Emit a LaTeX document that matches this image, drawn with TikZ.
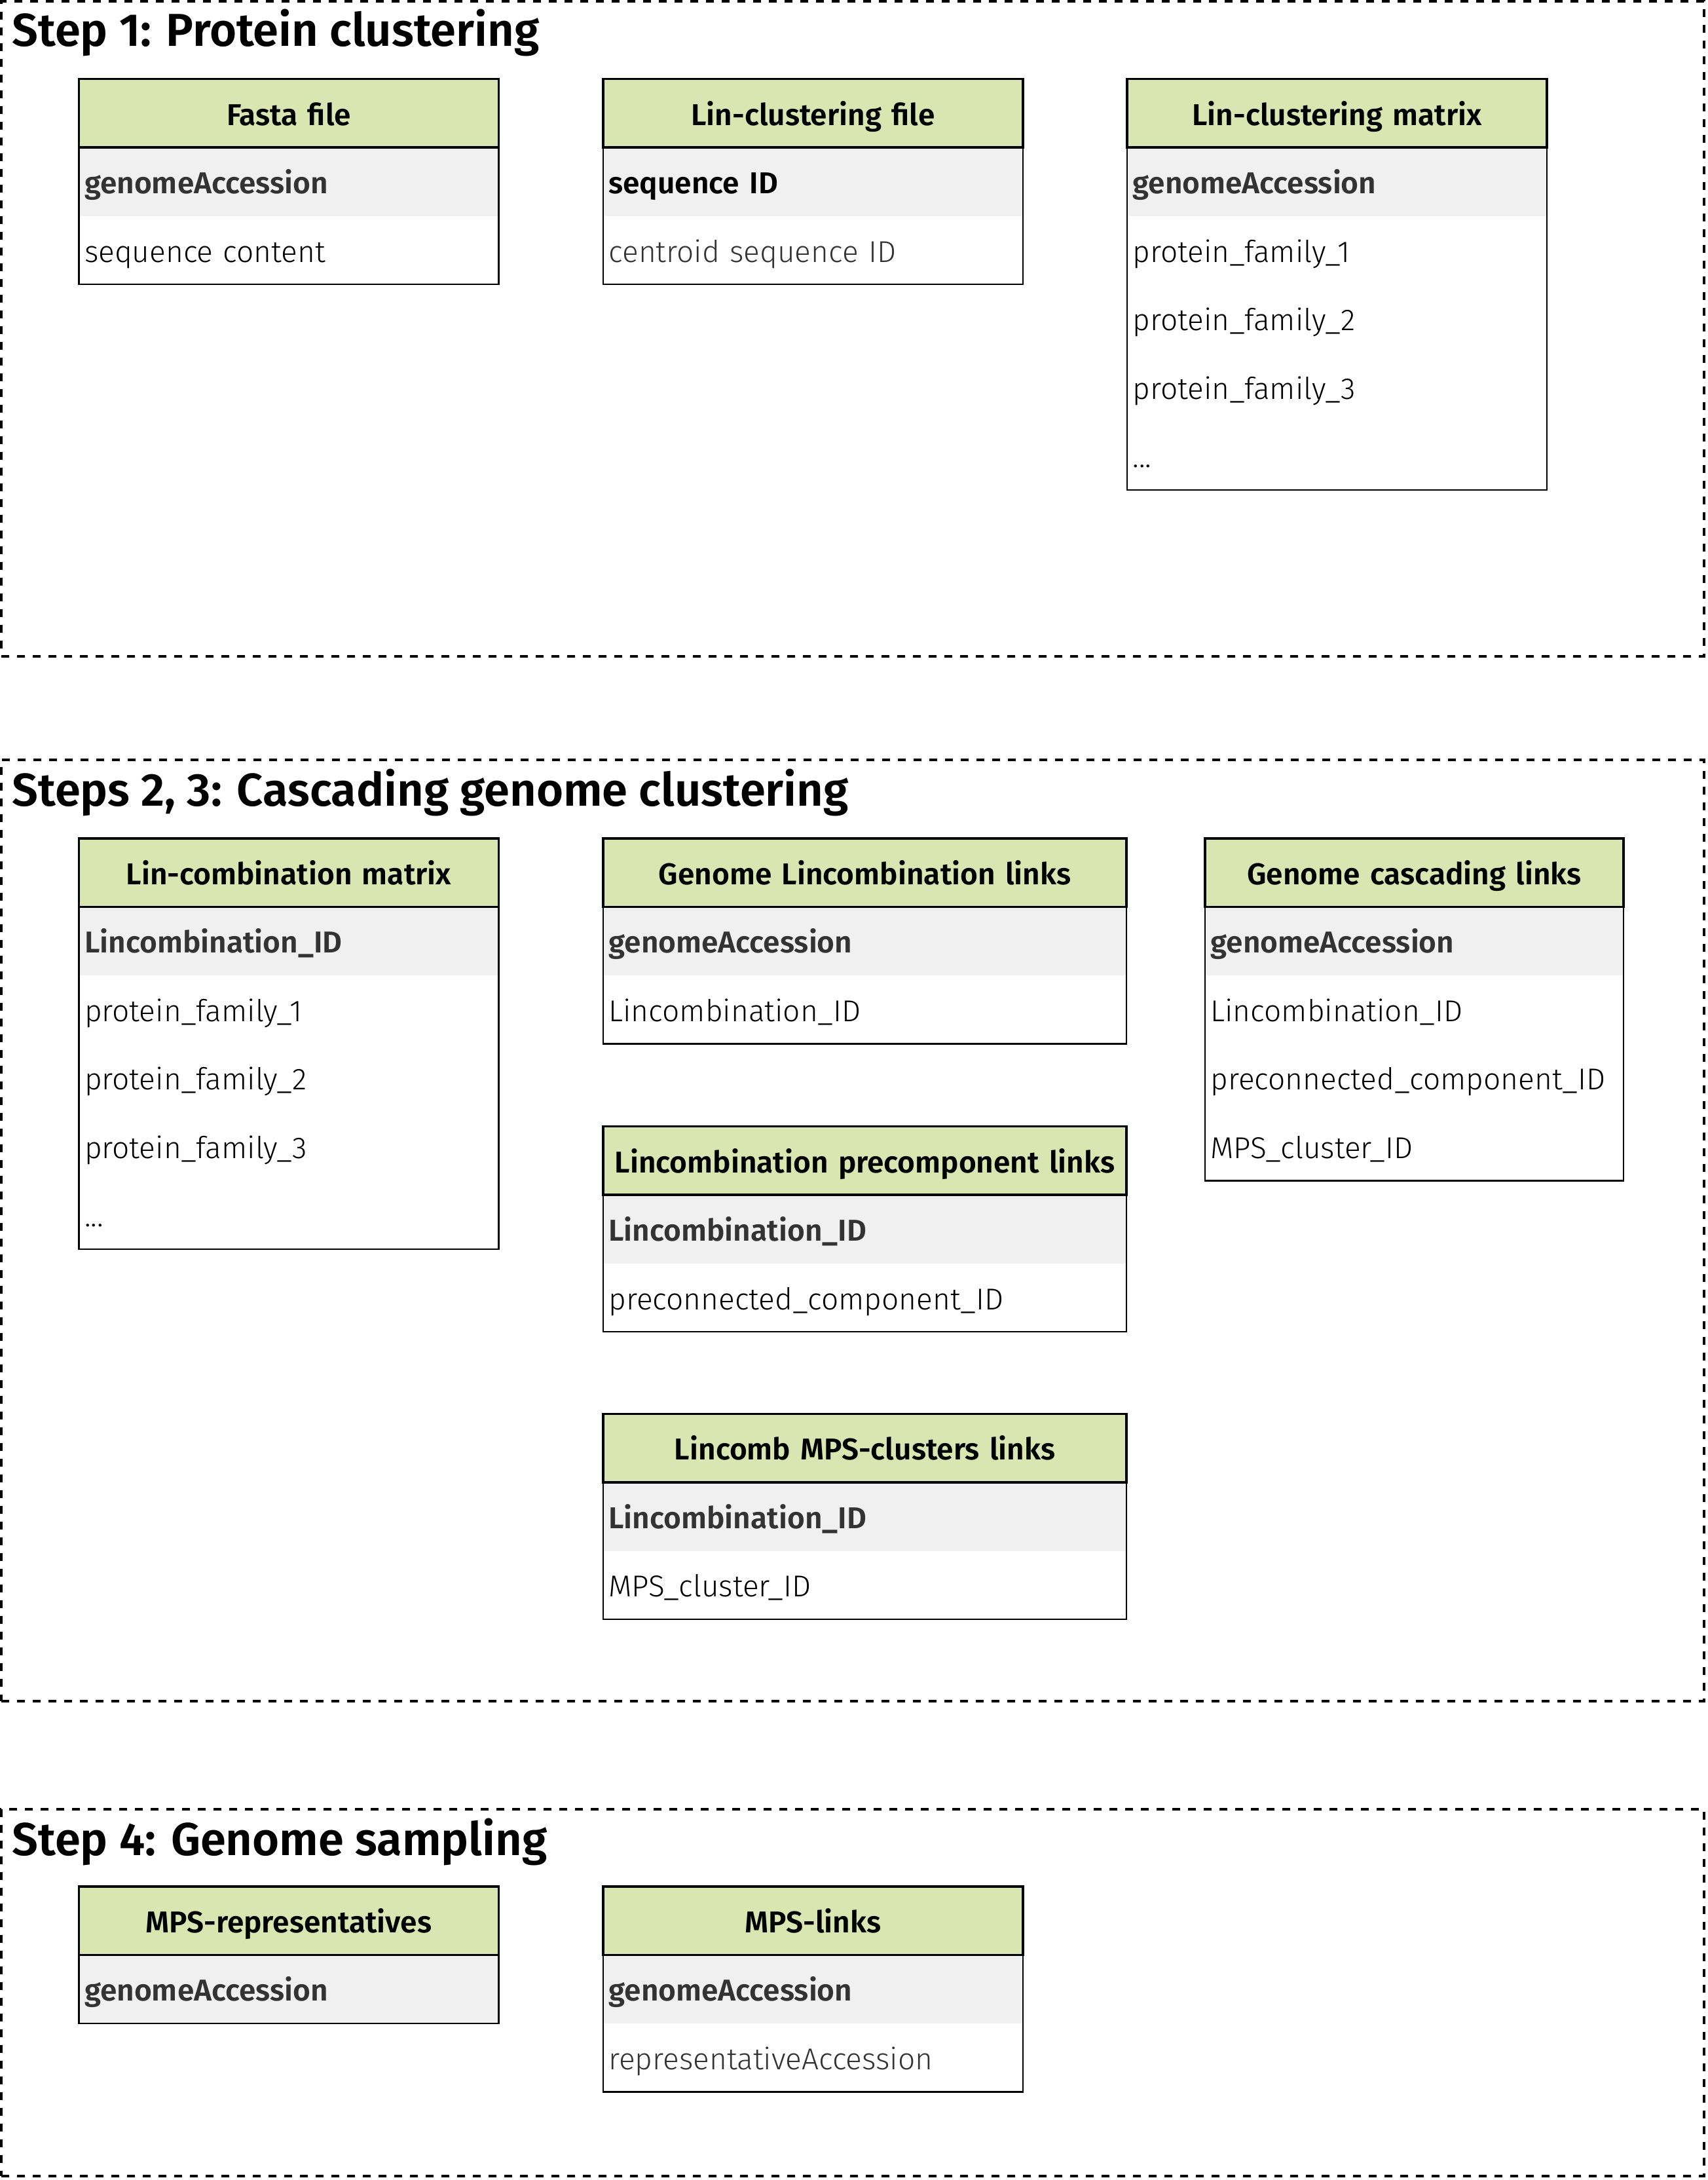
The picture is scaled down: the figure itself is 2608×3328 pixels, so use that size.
\documentclass[tikz,border=0pt]{standalone}
\usepackage{fontspec}
\IfFontExistsTF{Fira Sans Light}{%
  \IfFontExistsTF{Fira Sans SemiBold}{%
    \setmainfont{Fira Sans Light}[BoldFont={Fira Sans SemiBold}]}{%
    \IfFontExistsTF{Fira Sans Bold}{%
      \setmainfont{Fira Sans Light}[BoldFont={Fira Sans Bold}]}{%
      \setmainfont{Fira Sans}}}}{%
  \setmainfont{Fira Sans}}
\definecolor{hdrgreen}{HTML}{D9E6B1}
\definecolor{keygray}{HTML}{F0F0F0}
\definecolor{txtgray}{HTML}{333333}
\newcommand\settw[1]{\pgfmathsetlengthmacro\twtext{(#1-17)*0.25pt}}
\settw{641}
\tikzset{
  cell/.style={inner xsep=2.125pt, inner ysep=0pt, minimum height=26.125pt,
    text width=\twtext, text height=1.17em, text depth=0.26em,
    font=\fontsize{11.5}{13}\selectfont, anchor=north west, outer sep=0pt},
  hdrcell/.style={cell, fill=hdrgreen, align=center,
    font=\fontsize{11.5}{13}\selectfont\bfseries},
  keycell/.style={cell, fill=keygray, align=left,
    font=\fontsize{11.5}{13}\selectfont\bfseries},
  bodycell/.style={cell, fill=white, align=left},
  hdrline/.style={draw=black, line width=0.85pt},
  tblline/.style={draw=black, line width=0.6pt},
  groupbox/.style={draw=black, line width=1pt, dash pattern=on 3pt off 3pt,
    anchor=north west, inner sep=0pt, outer sep=0pt},
  grouptitle/.style={anchor=base west, inner sep=0pt,
    font=\fontsize{17.6}{20}\selectfont\bfseries},
}
\begin{document}
\begin{tikzpicture}[x=0.25pt, y=-0.25pt]
\useasboundingbox (0,0) rectangle (2608,3328);

% ---------- group boxes ----------
\node[groupbox, minimum width=650pt, minimum height=250pt] (g1) at (2,2) {};
\node[groupbox, minimum width=650pt, minimum height=359.25pt] (g2) at (2,1160) {};
\node[groupbox, minimum width=650pt, minimum height=140pt] (g3) at (2,2762) {};
\node[grouptitle] (t1) at (18,71) {Step 1: Protein clustering};
\node[grouptitle] (t2) at (18,1230) {Steps 2, 3: Cascading genome clustering};
\node[grouptitle] (t3) at (18,2832) {Step 4: Genome sampling};

% ---------- Step 1 ----------
\settw{641}
\node[hdrcell] (fa) at (120.5,120.7) {Fasta file};
\node[keycell, text=txtgray] (fa1) at (fa.south west) {genomeAccession};
\node[bodycell] (fa2) at (fa1.south west) {sequence content};
\draw[tblline] (fa.north west) rectangle (fa2.south east);
\draw[hdrline] (fa.north west) rectangle (fa.south east);

\node[hdrcell] (lf) at (921,120.7) {Lin-clustering file};
\node[keycell] (lf1) at (lf.south west) {sequence ID};
\node[bodycell, text=txtgray] (lf2) at (lf1.south west) {centroid sequence ID};
\draw[tblline] (lf.north west) rectangle (lf2.south east);
\draw[hdrline] (lf.north west) rectangle (lf.south east);

\node[hdrcell] (lm) at (1721,120.7) {Lin-clustering matrix};
\node[keycell, text=txtgray] (lm1) at (lm.south west) {genomeAccession};
\node[bodycell] (lm2) at (lm1.south west) {protein\_family\_1};
\node[bodycell] (lm3) at (lm2.south west) {protein\_family\_2};
\node[bodycell] (lm4) at (lm3.south west) {protein\_family\_3};
\node[bodycell] (lm5) at (lm4.south west) {...};
\draw[tblline] (lm.north west) rectangle (lm5.south east);
\draw[hdrline] (lm.north west) rectangle (lm.south east);

% ---------- Steps 2, 3 ----------
\settw{641}
\node[hdrcell] (cm) at (120.5,1280) {Lin-combination matrix};
\node[keycell, text=txtgray] (cm1) at (cm.south west) {Lincombination\_ID};
\node[bodycell] (cm2) at (cm1.south west) {protein\_family\_1};
\node[bodycell] (cm3) at (cm2.south west) {protein\_family\_2};
\node[bodycell] (cm4) at (cm3.south west) {protein\_family\_3};
\node[bodycell] (cm5) at (cm4.south west) {...};
\draw[tblline] (cm.north west) rectangle (cm5.south east);
\draw[hdrline] (cm.north west) rectangle (cm.south east);

\settw{799}
\node[hdrcell] (gl) at (921,1280) {Genome Lincombination links};
\node[keycell, text=txtgray] (gl1) at (gl.south west) {genomeAccession};
\node[bodycell] (gl2) at (gl1.south west) {Lincombination\_ID};
\draw[tblline] (gl.north west) rectangle (gl2.south east);
\draw[hdrline] (gl.north west) rectangle (gl.south east);

\node[hdrcell] (pl) at (921,1719.6) {Lincombination precomponent links};
\node[keycell, text=txtgray] (pl1) at (pl.south west) {Lincombination\_ID};
\node[bodycell] (pl2) at (pl1.south west) {preconnected\_component\_ID};
\draw[tblline] (pl.north west) rectangle (pl2.south east);
\draw[hdrline] (pl.north west) rectangle (pl.south east);

\node[hdrcell] (ml) at (921,2158.5) {Lincomb MPS-clusters links};
\node[keycell, text=txtgray] (ml1) at (ml.south west) {Lincombination\_ID};
\node[bodycell] (ml2) at (ml1.south west) {MPS\_cluster\_ID};
\draw[tblline] (ml.north west) rectangle (ml2.south east);
\draw[hdrline] (ml.north west) rectangle (ml.south east);

\settw{639}
\node[hdrcell] (gc) at (1840,1280) {Genome cascading links};
\node[keycell, text=txtgray] (gc1) at (gc.south west) {genomeAccession};
\node[bodycell] (gc2) at (gc1.south west) {Lincombination\_ID};
\node[bodycell] (gc3) at (gc2.south west) {preconnected\_component\_ID};
\node[bodycell] (gc4) at (gc3.south west) {MPS\_cluster\_ID};
\draw[tblline] (gc.north west) rectangle (gc4.south east);
\draw[hdrline] (gc.north west) rectangle (gc.south east);

% ---------- Step 4 ----------
\settw{641}
\node[hdrcell] (mr) at (120.5,2880) {MPS-representatives};
\node[keycell, text=txtgray] (mr1) at (mr.south west) {genomeAccession};
\draw[tblline] (mr.north west) rectangle (mr1.south east);
\draw[hdrline] (mr.north west) rectangle (mr.south east);

\node[hdrcell] (mk) at (921,2880) {MPS-links};
\node[keycell, text=txtgray] (mk1) at (mk.south west) {genomeAccession};
\node[bodycell, text=txtgray] (mk2) at (mk1.south west) {representativeAccession};
\draw[tblline] (mk.north west) rectangle (mk2.south east);
\draw[hdrline] (mk.north west) rectangle (mk.south east);
\end{tikzpicture}
\end{document}
